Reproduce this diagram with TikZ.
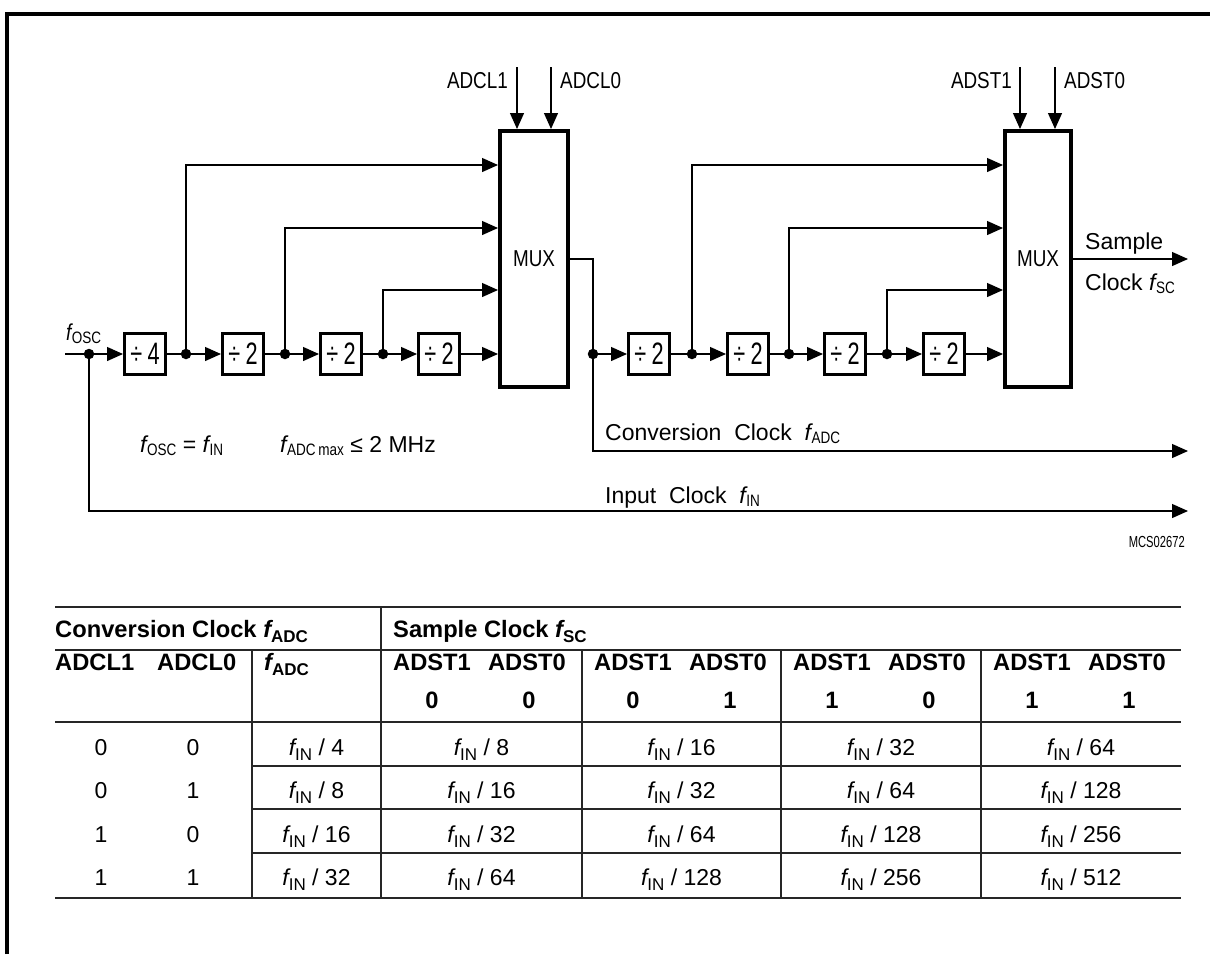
\documentclass[tikz,border=0pt]{standalone}
\usepackage{fontspec}
\setmainfont{Liberation Sans}
\newfontfamily\dg[FakeStretch=0.82]{Liberation Sans}
\newfontfamily\dgn[FakeStretch=0.7]{Liberation Sans}
\newfontfamily\dgw{Liberation Sans}
\usetikzlibrary{arrows.meta}
\newcommand\dsub[1]{\raisebox{-3pt}{\dg\fontsize{16.5}{16.5}\selectfont #1}}
\newcommand\df[1]{{\itshape f}\kern0.5pt\dsub{#1}}
\newcommand\tsub[1]{\raisebox{-5pt}{\fontsize{17}{17}\selectfont #1}}
\newcommand\tf[1]{{\itshape f}\tsub{#1}}
\tikzset{
  ln/.style={line width=1.3pt},
  arr/.style={ln,-{Triangle[length=16pt,width=14pt]}},
  divbox/.style={draw,line width=3pt,minimum width=41pt,minimum height=41pt,inner sep=0pt,font=\dgn\fontsize{31}{31}\selectfont},
  muxbox/.style={draw,line width=4pt,minimum height=256pt,inner sep=0pt,font=\dg\fontsize{23}{23}\selectfont},
  jdot/.style={circle,fill,inner sep=0pt,minimum size=10.5pt},
  lab/.style={inner sep=0pt,font=\dg\fontsize{23}{23}\selectfont},
  labw/.style={inner sep=0pt,font=\dgw\fontsize{23}{23}\selectfont},
  small/.style={inner sep=0pt,font=\dgn\fontsize{16}{16}\selectfont},
  tb/.style={inner sep=0pt,font=\fontsize{23}{23}\selectfont},
  tbh/.style={inner sep=0pt,font=\fontsize{23.7}{23.7}\selectfont\bfseries},
  grid/.style={line width=1.5pt,draw=black!85},
}
\begin{document}
\begin{tikzpicture}[x=1pt,y=-1pt]
\useasboundingbox (0,0) rectangle (1210,954);
% frame
\draw[line width=4pt] (7,954) |- (1210,13.5);

% ---------------- first chain ----------------
\coordinate (in) at (65,354);
\node[jdot] (d0) at (89,354) {};
\node[divbox] (b1) at (145,354) {÷\,4};
\node[jdot] (d1) at (186,354) {};
\node[divbox] (b2) at (243,354) {÷\,2};
\node[jdot] (d2) at (285,354) {};
\node[divbox] (b3) at (341,354) {÷\,2};
\node[jdot] (d3) at (383,354) {};
\node[divbox] (b4) at (439,354) {÷\,2};
\node[muxbox,minimum width=68pt] (mux1) at (534,259) {MUX};
\node[lab,anchor=base west] (fosc) at (66,340) {\df{OSC}};

\coordinate (m1a) at (498,165);
\coordinate (m1b) at (498,228);
\coordinate (m1c) at (498,290);
\coordinate (m1d) at (498,354);

\draw[ln] (in) -- (d0.center);
\draw[arr] (d0.center) -- (b1);
\draw[ln] (b1) -- (d1.center);
\draw[arr] (d1.center) -- (b2);
\draw[ln] (b2) -- (d2.center);
\draw[arr] (d2.center) -- (b3);
\draw[ln] (b3) -- (d3.center);
\draw[arr] (d3.center) -- (b4);
\draw[arr] (b4) -- (m1d);
\draw[arr] (d1.center) |- (m1a);
\draw[arr] (d2.center) |- (m1b);
\draw[arr] (d3.center) |- (m1c);

% control inputs of MUX 1
\coordinate (cl1) at (517,67);
\coordinate (cl0) at (551,67);
\draw[arr] (cl1) -- (cl1 |- mux1.north);
\draw[arr] (cl0) -- (cl0 |- mux1.north);
\node[lab,anchor=base east] (tcl1) at (508,88) {ADCL1};
\node[lab,anchor=base west] (tcl0) at (560,88) {ADCL0};

% ---------------- second chain ----------------
\node[jdot] (d4) at (593,354) {};
\node[divbox] (b5) at (649,354) {÷\,2};
\node[jdot] (d5) at (692,354) {};
\node[divbox] (b6) at (748,354) {÷\,2};
\node[jdot] (d6) at (789,354) {};
\node[divbox] (b7) at (845,354) {÷\,2};
\node[jdot] (d7) at (887,354) {};
\node[divbox] (b8) at (944,354) {÷\,2};
\node[muxbox,minimum width=66pt] (mux2) at (1038,259) {MUX};

\coordinate (m2a) at (1003,165);
\coordinate (m2b) at (1003,228);
\coordinate (m2c) at (1003,290);
\coordinate (m2d) at (1003,354);

\draw[ln] (mux1.east) -| (d4.center);
\draw[arr] (d4.center) -- (b5);
\draw[ln] (b5) -- (d5.center);
\draw[arr] (d5.center) -- (b6);
\draw[ln] (b6) -- (d6.center);
\draw[arr] (d6.center) -- (b7);
\draw[ln] (b7) -- (d7.center);
\draw[arr] (d7.center) -- (b8);
\draw[arr] (b8) -- (m2d);
\draw[arr] (d5.center) |- (m2a);
\draw[arr] (d6.center) |- (m2b);
\draw[arr] (d7.center) |- (m2c);

\coordinate (st1) at (1020,67);
\coordinate (st0) at (1055,67);
\draw[arr] (st1) -- (st1 |- mux2.north);
\draw[arr] (st0) -- (st0 |- mux2.north);
\node[lab,anchor=base east] (tst1) at (1012,88) {ADST1};
\node[lab,anchor=base west] (tst0) at (1064,88) {ADST0};

% outputs
\coordinate (sEnd) at (1188,259);
\draw[arr] (mux2.east) -- (sEnd);
\node[labw,anchor=base west] (tsam) at (1085,249) {Sample};
\node[labw,anchor=base west] (tclk) at (1085,290) {Clock \df{SC}};

\coordinate (cEnd) at (1188,451);
\draw[arr] (d4.center) |- (cEnd);
\node[labw,anchor=base west] (tconv) at (605,440) {Conversion\ \ Clock\ \ \df{ADC}};

\coordinate (iEnd) at (1188,511);
\draw[arr] (d0.center) |- (iEnd);
\node[labw,anchor=base west] (tinp) at (605,503) {Input\ \ Clock\ \ \df{IN}};

\node[labw,anchor=base west] (eq1) at (140,452) {\df{OSC} = \df{IN}};
\node[labw,anchor=base west] (eq2) at (280,452) {\df{ADC\,max} ≤ 2 MHz};
\node[small,anchor=base east] (code) at (1185,547) {MCS02672};

% ---------------- table ----------------
\draw[grid] (55,607) -- (1181,607);
\draw[grid] (55,650) -- (1181,650);
\draw[grid] (55,722) -- (1181,722);
\draw[grid] (252,766) -- (1181,766);
\draw[grid] (252,809) -- (1181,809);
\draw[grid] (252,853) -- (1181,853);
\draw[grid] (55,898) -- (1181,898);
\draw[grid] (252,650) -- (252,898);
\draw[grid] (381,607) -- (381,898);
\draw[grid] (582,650) -- (582,898);
\draw[grid] (781,650) -- (781,898);
\draw[grid] (981,650) -- (981,898);

\node[tbh,anchor=base west] (hconv) at (55,637) {Conversion Clock \tf{ADC}};
\node[tbh,anchor=base west] (hsam) at (393,637) {Sample Clock \tf{SC}};
\node[tbh,anchor=base west] (hcl1) at (55,670) {ADCL1};
\node[tbh,anchor=base west] (hcl0) at (157,670) {ADCL0};
\node[tbh,anchor=base west] (hfadc) at (264,670) {\tf{ADC}};
\foreach \L/\p/\q [count=\k] in {381/0/0,582/0/1,781/1/0,981/1/1}{
  \node[tbh,anchor=base west] (hs1\k) at (\L+12,670) {ADST1};
  \node[tbh,anchor=base east] (hs0\k) at (\L+185,670) {ADST0};
  \node[tbh,anchor=base] (hp\k) at (\L+51,708) {\p};
  \node[tbh,anchor=base] (hq\k) at (\L+148,708) {\q};
}
\foreach \yy/\va/\vb/\vc/\vd/\ve/\vf/\vg [count=\r] in
  {755/0/0/4/8/16/32/64, 798/0/1/8/16/32/64/128, 842/1/0/16/32/64/128/256, 885/1/1/32/64/128/256/512}{
  \node[tb,anchor=base] (ca\r) at (101,\yy) {\va};
  \node[tb,anchor=base] (cb\r) at (193,\yy) {\vb};
  \node[tb,anchor=base] (cc\r) at (316.5,\yy) {\tf{IN} / \vc};
  \node[tb,anchor=base] (cd\r) at (481.5,\yy) {\tf{IN} / \vd};
  \node[tb,anchor=base] (ce\r) at (681.5,\yy) {\tf{IN} / \ve};
  \node[tb,anchor=base] (cf\r) at (881,\yy) {\tf{IN} / \vf};
  \node[tb,anchor=base] (cg\r) at (1081,\yy) {\tf{IN} / \vg};
}
\end{tikzpicture}
\end{document}
